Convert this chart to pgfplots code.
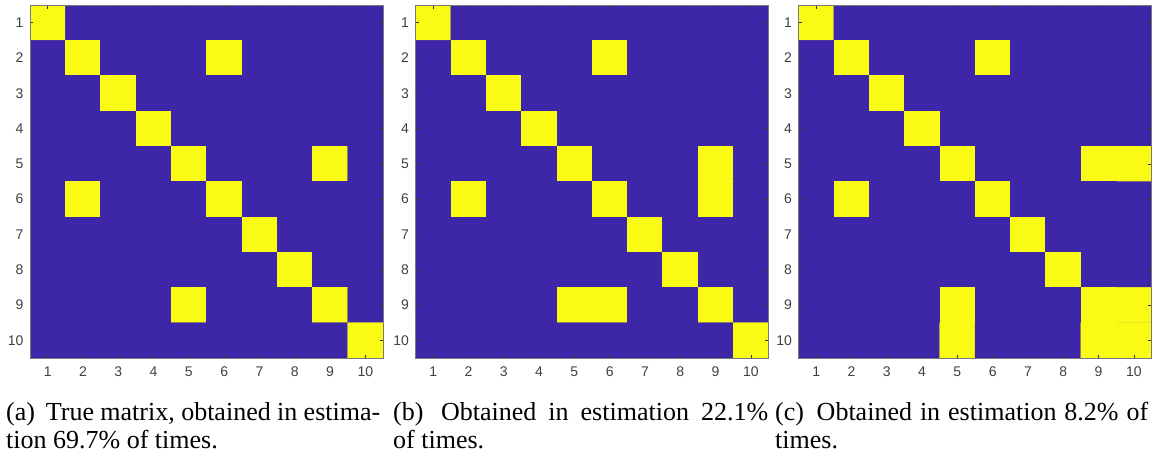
\documentclass[border=0pt]{standalone}
\usepackage{fontspec}
\setmainfont{Liberation Serif}
\newfontfamily\ticksans{Liberation Sans}
\usepackage{pgfplots}
\usepackage{pgfplotstable}
\pgfplotsset{compat=1.18}
\definecolor{tickgray}{RGB}{64,64,64}
\definecolor{boxgray}{RGB}{120,120,120}
\definecolor{parublue}{RGB}{62,38,168}
% x = column, y = row, a/b/c = panels (a), (b), (c)
\pgfplotstableread{
x y a b c
1 1 1 1 1
2 1 0 0 0
3 1 0 0 0
4 1 0 0 0
5 1 0 0 0
6 1 0 0 0
7 1 0 0 0
8 1 0 0 0
9 1 0 0 0
10 1 0 0 0
1 2 0 0 0
2 2 1 1 1
3 2 0 0 0
4 2 0 0 0
5 2 0 0 0
6 2 1 1 1
7 2 0 0 0
8 2 0 0 0
9 2 0 0 0
10 2 0 0 0
1 3 0 0 0
2 3 0 0 0
3 3 1 1 1
4 3 0 0 0
5 3 0 0 0
6 3 0 0 0
7 3 0 0 0
8 3 0 0 0
9 3 0 0 0
10 3 0 0 0
1 4 0 0 0
2 4 0 0 0
3 4 0 0 0
4 4 1 1 1
5 4 0 0 0
6 4 0 0 0
7 4 0 0 0
8 4 0 0 0
9 4 0 0 0
10 4 0 0 0
1 5 0 0 0
2 5 0 0 0
3 5 0 0 0
4 5 0 0 0
5 5 1 1 1
6 5 0 0 0
7 5 0 0 0
8 5 0 0 0
9 5 1 1 1
10 5 0 0 1
1 6 0 0 0
2 6 1 1 1
3 6 0 0 0
4 6 0 0 0
5 6 0 0 0
6 6 1 1 1
7 6 0 0 0
8 6 0 0 0
9 6 0 1 0
10 6 0 0 0
1 7 0 0 0
2 7 0 0 0
3 7 0 0 0
4 7 0 0 0
5 7 0 0 0
6 7 0 0 0
7 7 1 1 1
8 7 0 0 0
9 7 0 0 0
10 7 0 0 0
1 8 0 0 0
2 8 0 0 0
3 8 0 0 0
4 8 0 0 0
5 8 0 0 0
6 8 0 0 0
7 8 0 0 0
8 8 1 1 1
9 8 0 0 0
10 8 0 0 0
1 9 0 0 0
2 9 0 0 0
3 9 0 0 0
4 9 0 0 0
5 9 1 1 1
6 9 0 1 0
7 9 0 0 0
8 9 0 0 0
9 9 1 1 1
10 9 0 0 1
1 10 0 0 0
2 10 0 0 0
3 10 0 0 0
4 10 0 0 0
5 10 0 0 1
6 10 0 0 0
7 10 0 0 0
8 10 0 0 0
9 10 0 0 1
10 10 1 1 1
}\matdata
\pgfplotsset{
  hm/.style={
    scale only axis, width=353pt, height=353pt,
    anchor=north west,
    xmin=0.5, xmax=10.5, ymin=0.5, ymax=10.5,
    y dir=reverse, enlargelimits=false, axis on top,
    axis background/.style={fill=parublue},
    xtick={1,...,10}, ytick={1,...,10},
    xticklabels={1,2,3,4,5,6,7,8,9,10},
    yticklabels={1,2,3,4,5,6,7,8,9,10},
    tick align=inside, major tick length=3.5pt,
    tick style={draw=black!80, line width=0.5pt},
    axis line style={draw=boxgray, line width=0.7pt},
    ticklabel style={font=\ticksans\fontsize{14}{14}\selectfont, text=tickgray},
    xticklabel style={yshift=-5pt},
    yticklabel style={xshift=-3pt},
    colormap={parulatwo}{rgb255=(62,38,168) rgb255=(249,251,21)},
    point meta min=0, point meta max=1,
  },
}
\newcommand\lab[1]{(#1)\hskip 0.42em plus 0.15em\relax}
\begin{document}
\begin{tikzpicture}
\path[use as bounding box] (0pt,0pt) rectangle (1161pt,-455pt);
\begin{axis}[hm, at={(30pt,-5pt)}]
\addplot[matrix plot*, mesh/cols=10, point meta=explicit] table[x=x, y=y, meta=a] {\matdata};
\end{axis}
\begin{axis}[hm, at={(415.5pt,-5pt)}]
\addplot[matrix plot*, mesh/cols=10, point meta=explicit] table[x=x, y=y, meta=b] {\matdata};
\end{axis}
\begin{axis}[hm, at={(798.5pt,-5pt)}]
\addplot[matrix plot*, mesh/cols=10, point meta=explicit] table[x=x, y=y, meta=c] {\matdata};
\end{axis}
\node[anchor=north west, inner sep=0pt, text width=374pt, align=justify,
  font=\fontsize{26}{28.5}\selectfont] at (6pt,-400pt)
  {\strut\lab{a}True matrix, obtained in estima-\linebreak tion 69.7\% of times.};
\node[anchor=north west, inner sep=0pt, text width=375pt, align=justify,
  font=\fontsize{26}{28.5}\selectfont] at (393pt,-400pt)
  {\strut\lab{b}Obtained in estimation 22.1\%\linebreak of times.};
\node[anchor=north west, inner sep=0pt, text width=373pt, align=justify,
  font=\fontsize{26}{28.5}\selectfont] at (775pt,-400pt)
  {\strut\lab{c}Obtained in estimation 8.2\% of\linebreak times.};
\end{tikzpicture}
\end{document}
